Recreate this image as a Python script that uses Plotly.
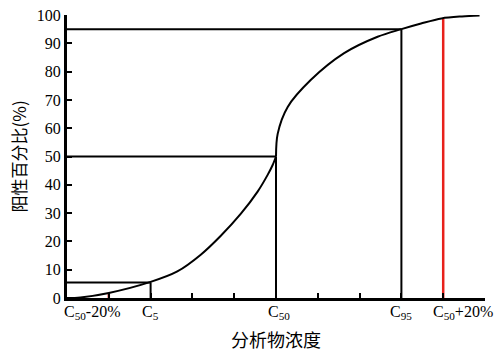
import plotly.graph_objects as go

# Curve data (x in tick units of concentration, y in % positive)
lower_x = [0, 0.32, 1, 2, 2.64, 3.2, 3.68, 4.16, 4.56, 4.8, 4.92, 5]
lower_y = [0, 0.2, 1.8, 5.7, 9.4, 15.3, 22.0, 29.8, 37.6, 43.5, 47.0, 50]
upper_x = [5, 5.04, 5.28, 5.83, 6.63, 7.43, 8, 8.47, 8.96, 9.45, 9.87]
upper_y = [50, 58, 67.5, 77, 86.5, 92.3, 95, 97.0, 98.8, 99.5, 99.8]

# Guide lines: concentration points and their positive %
guide_x = [2, 5, 8]
guide_y = [5.5, 50, 95]
red_x = [1, 9]
red_y = [1.8, 98.8]

tick_vals = [1, 2, 3, 4, 5, 6, 7, 8, 9]
label_pos = [0.6, 2, 5.07, 8, 9.47]
label_text = ["C<sub>50</sub>-20%", "C<sub>5</sub>", "C<sub>50</sub>", "C<sub>95</sub>", "C<sub>50</sub>+20%"]
y_ticks = [0, 10, 20, 30, 40, 50, 60, 70, 80, 90, 100]

fig = go.Figure()

blk = dict(color="black", width=2)
for gx, gy in zip(guide_x, guide_y):
    fig.add_trace(go.Scatter(x=[0, gx], y=[gy, gy], mode="lines", line=blk, showlegend=False))
    fig.add_trace(go.Scatter(x=[gx, gx], y=[0, gy], mode="lines", line=blk, showlegend=False))
for rx, ry in zip(red_x, red_y):
    fig.add_trace(go.Scatter(x=[rx, rx], y=[0, ry], mode="lines",
                             line=dict(color="#e8211b", width=2.5), showlegend=False))

fig.add_trace(go.Scatter(x=lower_x, y=lower_y, mode="lines",
                         line=dict(color="black", width=2, shape="spline", smoothing=0.9), showlegend=False))
fig.add_trace(go.Scatter(x=upper_x, y=upper_y, mode="lines",
                         line=dict(color="black", width=2, shape="spline", smoothing=0.9), showlegend=False))

serif = "Liberation Serif"
cjk = "Noto Sans CJK SC"
for lp, lt in zip(label_pos, label_text):
    fig.add_annotation(x=lp, y=0, xref="x", yref="paper", text=lt, showarrow=False,
                       yanchor="top", yshift=-3, font=dict(family=serif, size=16, color="black"))

fig.add_annotation(x=0.5, y=0, xref="paper", yref="paper", text="分析物浓度", showarrow=False,
                   xanchor="center", yanchor="middle", yshift=-41,
                   font=dict(family=cjk, size=18, color="black"))
fig.add_annotation(x=0, y=0.5, xref="paper", yref="paper", text="阳性百分比(%)", showarrow=False,
                   textangle=-90, xanchor="center", yanchor="middle", xshift=-49,
                   font=dict(family=cjk, size=17, color="black"))

fig.update_layout(
    width=495, height=351,
    margin=dict(l=67, r=10, t=15, b=53),
    paper_bgcolor="white", plot_bgcolor="white",
    xaxis=dict(range=[0, 10], tickvals=tick_vals, showticklabels=False, automargin=False,
               ticks="inside", ticklen=5, tickwidth=2, tickcolor="black",
               showline=True, linecolor="black", linewidth=3, showgrid=False, zeroline=False),
    yaxis=dict(range=[0, 100], tickvals=y_ticks, automargin=False,
               ticks="inside", ticklen=5, tickwidth=2, tickcolor="black",
               showline=True, linecolor="black", linewidth=3, showgrid=False, zeroline=False,
               tickfont=dict(family=serif, size=16, color="black")),
)

fig.write_html("out.html", config={"displayModeBar": False},
               post_script="document.body.style.margin='0';document.body.style.overflow='hidden';")
